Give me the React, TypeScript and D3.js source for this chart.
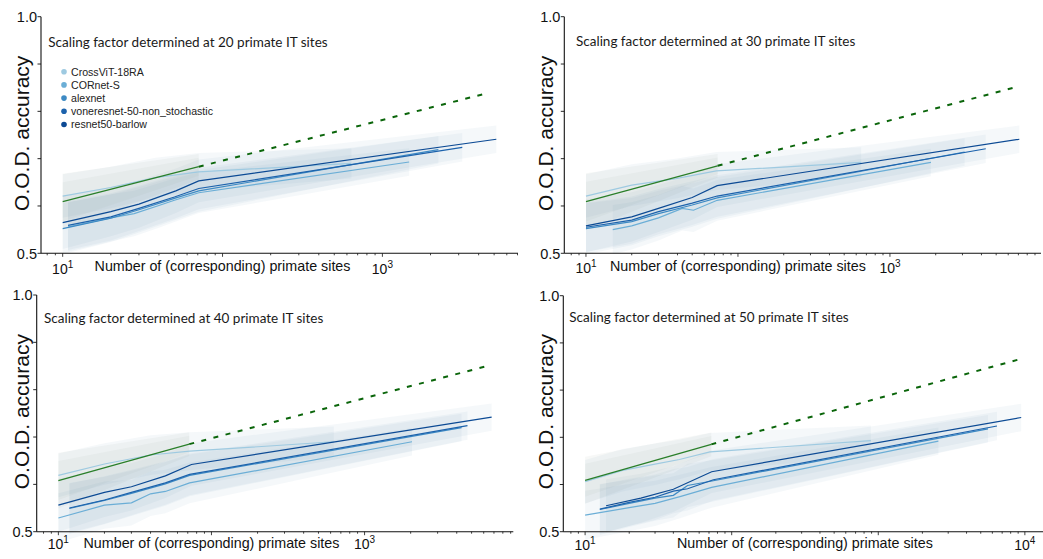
import React from "react";
import * as d3 from "d3";

const W = 1043;
const H = 559;

const MODELS = ["CrossViT-18RA", "CORnet-S", "alexnet", "voneresnet-50-non_stochastic", "resnet50-barlow"];
const MODEL_COLORS = ["#9ecae1", "#6baed6", "#3d8ac4", "#1c62ac", "#0c4a94"];
const SCALING_SITES = [20, 30, 40, 50];

// rows follow MODELS; x = number of (corresponding) primate sites
const sites20 = [
  [10, 20, 38, 71, 640],
  [10.8, 20, 28, 40, 50, 71, 1470],
  [10, 20, 30, 50, 71, 2240],
  [10.8, 20, 30, 50, 71, 3160],
  [10, 20, 30, 51, 71, 5160],
];
const acc20 = [
  [0.621, 0.639, 0.66, 0.672, 0.69],
  [0.556, 0.575, 0.584, 0.601, 0.612, 0.628, 0.693],
  [0.552, 0.574, 0.592, 0.616, 0.632, 0.719],
  [0.559, 0.577, 0.595, 0.619, 0.637, 0.724],
  [0.565, 0.588, 0.604, 0.632, 0.653, 0.741],
];
const sd20 = [
  [0.046, 0.044, 0.042, 0.04, 0.032],
  [0.052, 0.05, 0.048, 0.047, 0.046, 0.043, 0.029],
  [0.054, 0.05, 0.048, 0.046, 0.044, 0.029],
  [0.052, 0.05, 0.048, 0.046, 0.044, 0.03],
  [0.056, 0.052, 0.05, 0.047, 0.045, 0.029],
];

const sites30 = [
  [10, 20, 39, 72, 647],
  [15, 20, 30, 43, 51, 73, 1860],
  [10, 20, 30, 50, 73, 3100],
  [10, 20, 30, 50, 73, 4270],
  [10, 20, 30, 50, 73, 7100],
];
const acc30 = [
  [0.621, 0.644, 0.658, 0.674, 0.692],
  [0.55, 0.558, 0.575, 0.595, 0.591, 0.612, 0.692],
  [0.552, 0.567, 0.584, 0.602, 0.617, 0.714],
  [0.555, 0.57, 0.588, 0.606, 0.621, 0.721],
  [0.558, 0.577, 0.595, 0.618, 0.643, 0.741],
];
const sd30 = [
  [0.046, 0.044, 0.042, 0.04, 0.032],
  [0.052, 0.05, 0.048, 0.047, 0.046, 0.043, 0.029],
  [0.054, 0.05, 0.048, 0.046, 0.044, 0.029],
  [0.052, 0.05, 0.048, 0.046, 0.044, 0.03],
  [0.056, 0.052, 0.05, 0.047, 0.045, 0.029],
];

const sites40 = [
  [10, 20, 40, 72, 630],
  [10, 20, 30, 40, 50, 72, 2040],
  [11.8, 20, 30, 50, 72, 4300],
  [11.8, 20, 30, 50, 72, 4700],
  [10, 20, 30, 50, 74, 6760],
];
const acc40 = [
  [0.619, 0.643, 0.662, 0.67, 0.69],
  [0.529, 0.556, 0.561, 0.58, 0.585, 0.603, 0.69],
  [0.549, 0.566, 0.581, 0.601, 0.619, 0.72],
  [0.55, 0.567, 0.583, 0.603, 0.621, 0.724],
  [0.556, 0.583, 0.595, 0.618, 0.642, 0.742],
];
const sd40 = [
  [0.046, 0.044, 0.042, 0.04, 0.032],
  [0.052, 0.05, 0.048, 0.047, 0.046, 0.043, 0.029],
  [0.054, 0.05, 0.048, 0.046, 0.044, 0.029],
  [0.052, 0.05, 0.048, 0.046, 0.044, 0.03],
  [0.056, 0.052, 0.05, 0.047, 0.045, 0.029],
];

const sites50 = [
  [10, 18, 30, 44, 71, 890],
  [10, 20, 30, 45, 73, 2570],
  [12.6, 20, 30, 40, 50, 75, 5600],
  [12.6, 20, 30, 40, 50, 75, 6450],
  [13.9, 24, 40, 73, 9440],
];
const acc50 = [
  [0.606, 0.63, 0.643, 0.653, 0.669, 0.693],
  [0.535, 0.551, 0.56, 0.575, 0.594, 0.692],
  [0.547, 0.56, 0.571, 0.577, 0.598, 0.608, 0.718],
  [0.548, 0.562, 0.573, 0.586, 0.591, 0.61, 0.724],
  [0.555, 0.571, 0.59, 0.627, 0.742],
];
const sd50 = [
  [0.046, 0.045, 0.044, 0.042, 0.04, 0.032],
  [0.052, 0.05, 0.048, 0.046, 0.043, 0.029],
  [0.054, 0.05, 0.048, 0.047, 0.046, 0.044, 0.029],
  [0.052, 0.05, 0.048, 0.047, 0.046, 0.044, 0.03],
  [0.056, 0.052, 0.048, 0.045, 0.029],
];

const SITES = [sites20, sites30, sites40, sites50];
const ACC = [acc20, acc30, acc40, acc50];
const SD = [sd20, sd30, sd40, sd50];

// green: fitted primate curve (solid) and its extrapolation (dashed)
const fitSites = [[10, 71], [10, 73.5], [10, 71.6], [10, 72.6]];
const fitAcc = [[0.609, 0.683], [0.609, 0.685], [0.608, 0.685], [0.609, 0.685]];
const fitSd = [[0.059, 0.027], [0.06, 0.025], [0.059, 0.025], [0.05, 0.025]];
const extrapSites = [[71, 4610], [73.5, 6920], [71.6, 6680], [72.6, 9350]];
const extrapAcc = [[0.683, 0.839], [0.685, 0.852], [0.685, 0.852], [0.685, 0.866]];

const xTickLabels = [[10, 1000], [10, 1000], [10, 1000], [10, 10000]];
const xLabelAt = [100, 100, 100, 316];
const Y_TICKS = [0.5, 0.6, 0.7, 0.8, 0.9, 1.0];
const Y_LABELED = [0.5, 1.0];

const PANELS = [
  { x0: 41, x1: 518, yTop: 16.7, yBot: 253.3, tx: 48.3, ty: 46.5, lx: 28.5, ly: 133.3, tickY: 273.5, labY: 270.5 },
  { x0: 564.3, x1: 1041, yTop: 16.7, yBot: 253.3, tx: 576, ty: 45.5, lx: 553.3, ly: 133.3, tickY: 272.5, labY: 270.5 },
  { x0: 36.7, x1: 513.3, yTop: 295, yBot: 531.7, tx: 44, ty: 323, lx: 28.5, ly: 411.7, tickY: 548.5, labY: 547.5 },
  { x0: 563.3, x1: 1043, yTop: 295.7, yBot: 531.7, tx: 569.3, ty: 322, lx: 553.3, ly: 411.7, tickY: 549.5, labY: 548 },
];

const SANS = "'Liberation Sans', Arial, Helvetica, sans-serif";
const BAND = "#4f79a6";
const GREEN_BAND = "#6f8f6f";
const GREEN = "#2a7f2a";
const GREEN_DARK = "#0a650a";

type Pt = { x: number; y: number; s: number };

function Panel({ i }: { i: number }) {
  const p = PANELS[i];
  const sites = SITES[i];
  const acc = ACC[i];
  const sd = SD[i];

  const allX = [...sites.flat(), ...fitSites[i], ...extrapSites[i]];
  const lo = Math.log10(d3.min(allX) as number);
  const hi = Math.log10(d3.max(allX) as number);
  const pad = (hi - lo) * 0.05;
  const x = d3.scaleLog().domain([10 ** (lo - pad), 10 ** (hi + pad)]).range([p.x0, p.x1]);
  const y = d3.scaleLinear().domain([0.5, 1]).range([p.yBot, p.yTop]);

  const line = d3.line<Pt>().x((d) => x(d.x)).y((d) => y(d.y));
  const area = (k: number) =>
    d3.area<Pt>().x((d) => x(d.x)).y0((d) => y(d.y - d.s * k)).y1((d) => y(d.y + d.s * k));

  const series: Pt[][] = sites.map((xs, m) => xs.map((v, j) => ({ x: v, y: acc[m][j], s: sd[m][j] })));
  const fit: Pt[] = fitSites[i].map((v, j) => ({ x: v, y: fitAcc[i][j], s: fitSd[i][j] }));
  const extrap: Pt[] = extrapSites[i].map((v, j) => ({ x: v, y: extrapAcc[i][j], s: 0 }));

  const ticks = x.ticks();
  const isMajor = (t: number) => Math.abs(Math.log10(t) - Math.round(Math.log10(t))) < 1e-6;

  return (
    <g>
      {series.map((s, m) => (
        <path key={"b" + m} d={area(1)(s) || ""} fill={BAND} fillOpacity={0.055} />
      ))}
      <path d={area(1)(fit) || ""} fill={GREEN_BAND} fillOpacity={0.06} />
      <path d={area(0.7)(fit) || ""} fill={GREEN_BAND} fillOpacity={0.05} />
      {series.map((s, m) => (
        <path key={"l" + m} d={line(s) || ""} fill="none" stroke={MODEL_COLORS[m]} strokeWidth={1.2} />
      ))}
      <path d={line(fit) || ""} fill="none" stroke={GREEN} strokeWidth={1.3} />
      <path d={line(extrap) || ""} fill="none" stroke={GREEN_DARK} strokeWidth={2} strokeDasharray="5 7.5" />

      {/* axes */}
      <line x1={p.x0} x2={p.x0} y1={p.yTop} y2={p.yBot} stroke="#111" strokeWidth={1.1} />
      <line x1={p.x0} x2={p.x1} y1={p.yBot} y2={p.yBot} stroke="#111" strokeWidth={1.1} />
      {Y_TICKS.map((t) => (
        <line key={"yt" + t} x1={p.x0 - 3.5} x2={p.x0} y1={y(t)} y2={y(t)} stroke="#111" strokeWidth={0.9} />
      ))}
      {Y_LABELED.map((t) => (
        <text key={"yl" + t} x={p.x0 - 4} y={y(t)} dy="0.36em" textAnchor="end" fontFamily={SANS} fontSize={14.5} fill="#111">
          {t.toFixed(1)}
        </text>
      ))}
      {ticks.map((t, k) => (
        <line key={"xt" + k} x1={x(t)} x2={x(t)} y1={p.yBot} y2={p.yBot + (isMajor(t) ? 3.5 : 2)} stroke="#111" strokeWidth={0.8} />
      ))}
      {xTickLabels[i].map((t) => (
        <text key={"xl" + t} x={x(t)} y={p.tickY} textAnchor="middle" fontFamily={SANS} fontSize={14} fill="#111">
          10
          <tspan dy={-6} fontSize={10}>
            {Math.round(Math.log10(t))}
          </tspan>
        </text>
      ))}
      <text x={x(xLabelAt[i])} y={p.labY} textAnchor="middle" fontFamily={SANS} fontSize={14.3} fill="#111">
        Number of (corresponding) primate sites
      </text>
      <text
        transform={`translate(${p.lx},${p.ly}) rotate(-90)`}
        textAnchor="middle"
        fontFamily={SANS}
        fontSize={21}
        fill="#111"
      >
        O.O.D. accuracy
      </text>
      <text x={p.tx} y={p.ty} fontFamily="Lato, 'Open Sans', sans-serif" fontSize={13.5} fill="#1a1a1a">
        {`Scaling factor determined at ${SCALING_SITES[i]} primate IT sites`}
      </text>
    </g>
  );
}

function Legend() {
  return (
    <g>
      {MODELS.map((name, m) => (
        <g key={name} transform={`translate(64, ${71.7 + m * 13.2})`}>
          <circle r={2.8} fill={MODEL_COLORS[m]} />
          <text x={7} dy="0.36em" fontFamily={SANS} fontSize={10.6} fill="#222">
            {name}
          </text>
        </g>
      ))}
    </g>
  );
}

export default function App() {
  return (
    <svg
      width={W}
      height={H}
      viewBox={`0 0 ${W} ${H}`}
      style={{ position: "absolute", left: 0, top: 0, background: "#fff" }}
    >
      <rect width={W} height={H} fill="#fff" />
      {PANELS.map((_, i) => (
        <Panel key={i} i={i} />
      ))}
      <Legend />
    </svg>
  );
}
